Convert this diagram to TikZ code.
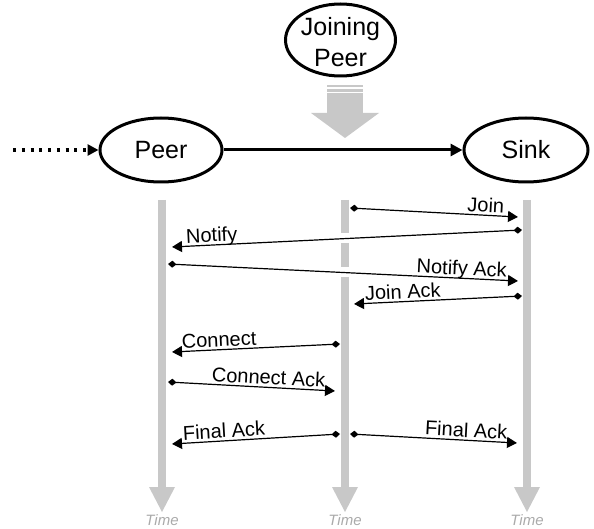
\documentclass[tikz,border=0pt]{standalone}
\usepackage{fontspec}
\setmainfont{Liberation Sans}
\usetikzlibrary{arrows.meta,shapes.geometric}
\definecolor{lgray}{RGB}{200,200,200}
\definecolor{tgray}{RGB}{170,170,170}
\tikzset{
  bignode/.style={draw, ellipse, line width=3pt, inner sep=0pt, font=\fontsize{25}{31}\selectfont},
  lifeline/.style={draw=lgray, line width=8.5pt},
  lifehead/.style={fill=lgray, draw=none},
  msg/.style={line width=1.2pt, {Diamond[length=8.5pt,width=7pt]}-{Triangle[length=10pt,width=11pt]}},
  lbl/.style={sloped, font=\fontsize{20}{23}\selectfont, text depth=0pt, inner xsep=0pt, inner ysep=2.5pt},
  timelbl/.style={font=\fontsize{15}{17}\selectfont\itshape, text=tgray, inner sep=0pt}
}
\begin{document}
\begin{tikzpicture}[x=1pt,y=-1pt]
\path[use as bounding box] (0,0) rectangle (594,529);

% main nodes
\node[bignode, minimum width=122pt, minimum height=64pt] (peer) at (161,150) {Peer};
\node[bignode, minimum width=124pt, minimum height=64pt] (sink) at (526,150) {Sink};
\node[draw, ellipse, line width=3pt, minimum width=110pt, minimum height=72pt, inner sep=0pt] (jp) at (340.5,40) {};
\node[align=center, inner sep=0pt, font=\fontsize{25}{31}\selectfont] (jptext) at (340.5,42) {Joining\\Peer};

% joining arrow
\fill[lgray] (327,85) rectangle (363,87);
\fill[lgray] (327,89) rectangle (363,92);
\fill[lgray] (327,93) rectangle (363,113.5);
\fill[lgray] (311,113) -- (379,113) -- (345,138) -- cycle;

% connections
\coordinate (start) at (13,150);
\draw[line width=3.5pt, dash pattern=on 3.2pt off 5.55pt, -{Triangle[length=11pt,width=11pt]}] (start) -- (peer.west);
\draw[line width=3pt, -{Triangle[length=12pt,width=12pt]}] (peer.east) -- (sink.west);

% lifelines
\draw[lifeline] (162,200) -- (162,488);
\fill[lifehead] (149,487) -- (175,487) -- (162,512) -- cycle;
\draw[lifeline] (345,200) -- (345,233);
\draw[lifeline] (345,243) -- (345,267);
\draw[lifeline] (345,277) -- (345,488);
\fill[lifehead] (332,487) -- (358,487) -- (345,512) -- cycle;
\draw[lifeline] (527,200) -- (527,488);
\fill[lifehead] (514,487) -- (540,487) -- (527,512) -- cycle;

\node[timelbl] (t1) at (162,520) {Time};
\node[timelbl] (t2) at (345,520) {Time};
\node[timelbl] (t3) at (527,520) {Time};

% message endpoints
\coordinate (j1) at (350,208);   \coordinate (j2) at (518,217);
\coordinate (n1) at (522,230);   \coordinate (n2) at (172,247);
\coordinate (na1) at (168,264);  \coordinate (na2) at (518,281);
\coordinate (ja1) at (522,296);  \coordinate (ja2) at (354,304);
\coordinate (c1) at (340,344);   \coordinate (c2) at (172,352);
\coordinate (ca1) at (168,382);  \coordinate (ca2) at (335,391);
\coordinate (fl1) at (340,434);  \coordinate (fl2) at (172,444);
\coordinate (fr1) at (350,434);  \coordinate (fr2) at (517,443);

\draw[msg] (j1) -- node[lbl, pos=0.918, anchor=south east] {Join} (j2);
\draw[msg] (n1) -- node[lbl, pos=0.96, anchor=south west] {Notify} (n2);
\draw[msg] (na1) -- node[lbl, pos=0.968, anchor=south east] {Notify Ack} (na2);
\draw[msg] (ja1) -- node[lbl, pos=0.935, anchor=south west] {Join Ack} (ja2);
\draw[msg] (c1) -- node[lbl, pos=0.942, anchor=south west] {Connect} (c2);
\draw[msg] (ca1) -- node[lbl, pos=0.942, anchor=south east] {Connect Ack} (ca2);
\draw[msg] (fl1) -- node[lbl, pos=0.935, anchor=south west] {Final Ack} (fl2);
\draw[msg] (fr1) -- node[lbl, pos=0.942, anchor=south east] {Final Ack} (fr2);
\end{tikzpicture}
\end{document}
